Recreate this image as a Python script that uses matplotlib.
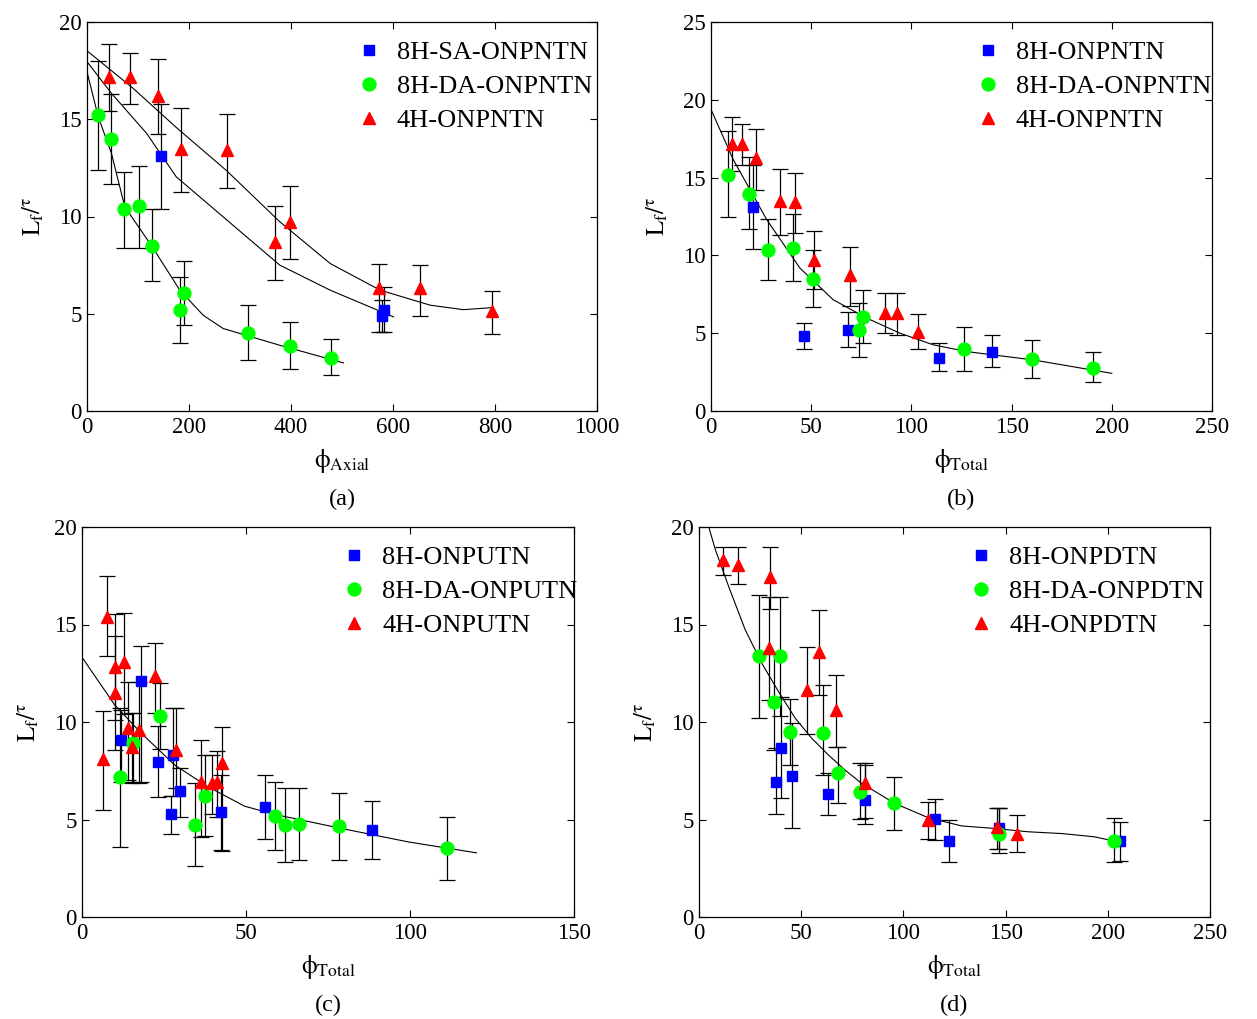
import numpy as np
import matplotlib
matplotlib.use("Agg")
import matplotlib.pyplot as plt

plt.rcParams['font.family'] = ['Liberation Serif', 'DejaVu Serif']
plt.rcParams['mathtext.fontset'] = 'stix'

# ---- panel (a) ----
a_sq_x = [146, 578, 583]
a_sq_y = [13.1, 4.87, 5.2]
a_sq_lo = [10.4, 4.07, 4.07]
a_sq_hi = [15.8, 5.7, 6.4]

a_ci_x = [22, 47, 73, 102, 128, 190, 182, 316, 399, 478]
a_ci_y = [15.2, 14.0, 10.36, 10.53, 8.5, 6.07, 5.21, 4.03, 3.34, 2.74]
a_ci_lo = [12.4, 11.66, 8.39, 8.39, 6.67, 4.41, 3.5, 2.61, 2.18, 1.84]
a_ci_hi = [18.0, 16.3, 12.3, 12.6, 10.36, 7.72, 6.9, 5.44, 4.58, 3.72]

a_tr_x = [43, 84, 140, 185, 275, 369, 399, 573, 652, 795]
a_tr_y = [17.15, 17.15, 16.2, 13.45, 13.4, 8.7, 9.7, 6.3, 6.3, 5.13]
a_tr_lo = [15.44, 15.76, 14.22, 11.27, 11.47, 6.72, 7.79, 4.07, 4.89, 3.98]
a_tr_hi = [18.87, 18.39, 18.08, 15.56, 15.25, 10.55, 11.58, 7.58, 7.53, 6.17]

a_fit_tr_x = [0, 90, 175, 274, 378, 477, 575, 673, 738, 797]
a_fit_tr_y = [18.52, 16.6, 14.58, 12.35, 9.73, 7.58, 6.21, 5.44, 5.21, 5.32]
a_fit_sq_x = [0, 48, 117, 175, 267, 378, 477, 601]
a_fit_sq_y = [17.96, 16.33, 14.27, 12.04, 9.98, 7.5, 6.21, 4.84]
a_fit_ci_x = [0, 22, 48, 74, 128, 182, 228, 267, 378, 503]
a_fit_ci_y = [17.44, 15.13, 13.24, 10.5, 8.44, 6.21, 4.92, 4.24, 3.38, 2.47]

# ---- panel (b) ----
b_sq_x = [21.1, 46.6, 68.6, 114, 140]
b_sq_y = [13.1, 4.85, 5.21, 3.43, 3.82]
b_sq_lo = [10.4, 3.97, 4.14, 2.6, 2.81]
b_sq_hi = [15.84, 5.64, 6.35, 4.36, 4.89]

b_ci_x = [8.65, 18.8, 28.6, 41.1, 51.1, 76, 73.9, 126, 160, 190.8]
b_ci_y = [15.19, 13.97, 10.36, 10.5, 8.5, 6.07, 5.21, 3.97, 3.35, 2.75]
b_ci_lo = [12.45, 11.7, 8.43, 8.37, 6.67, 4.4, 3.45, 2.6, 2.15, 1.85]
b_ci_hi = [17.98, 16.3, 12.36, 12.66, 10.36, 7.75, 6.93, 5.43, 4.57, 3.76]

b_tr_x = [10.3, 15.5, 22.3, 34.4, 41.9, 51.4, 69.4, 86.9, 92.7, 103.5]
b_tr_y = [17.19, 17.19, 16.27, 13.48, 13.41, 9.72, 8.71, 6.33, 6.33, 5.1]
b_tr_lo = [15.45, 15.84, 14.18, 11.29, 11.44, 7.83, 6.78, 5.0, 4.89, 3.97]
b_tr_hi = [18.9, 18.45, 18.13, 15.58, 15.3, 11.59, 10.51, 7.57, 7.57, 6.22]

b_fit_x = [0, 11.1, 27.8, 44.4, 61, 77.7, 94.3, 111, 127.6, 160.9, 200]
b_fit_y = [19.38, 16.16, 12.3, 9.18, 7.15, 5.97, 5.0, 4.25, 3.82, 3.28, 2.42]

# ---- panel (c) ----
c_sq_x = [11.8, 18.1, 23.2, 27.6, 27.1, 29.8, 42.5, 55.7, 88.3]
c_sq_y = [9.1, 12.1, 7.96, 8.3, 5.26, 6.47, 5.36, 5.62, 4.45]
c_sq_lo = [6.9, 6.93, 6.13, 6.2, 4.28, 5.14, 3.42, 4.02, 3.0]
c_sq_hi = [10.6, 13.9, 9.8, 10.7, 6.2, 7.65, 7.28, 7.28, 5.96]

c_ci_x = [11.5, 15.6, 23.7, 34.4, 37.6, 58.8, 61.9, 66.2, 78.3, 111.2]
c_ci_y = [7.16, 8.94, 10.3, 4.74, 6.2, 5.19, 4.71, 4.76, 4.66, 3.54]
c_ci_lo = [3.6, 6.93, 8.6, 2.6, 4.14, 3.46, 2.8, 2.91, 2.91, 1.88]
c_ci_hi = [10.7, 10.45, 12.0, 6.85, 8.3, 6.93, 6.6, 6.64, 6.34, 5.14]

c_tr_x = [7.6, 6.4, 10.1, 12.7, 10.1, 14.0, 17.3, 15.1, 22.2, 28.8, 36.4, 39.5, 41.3, 42.7]
c_tr_y = [15.4, 8.08, 12.84, 13.07, 11.5, 9.67, 9.59, 8.73, 12.36, 8.56, 6.93, 6.85, 6.93, 7.91]
c_tr_lo = [13.36, 5.48, 10.1, 10.4, 8.56, 7.02, 6.85, 6.85, 10.45, 6.6, 4.1, 5.3, 5.14, 3.39]
c_tr_hi = [17.47, 10.58, 15.55, 15.6, 14.4, 12.07, 12.07, 10.45, 14.04, 10.7, 9.08, 8.3, 8.5, 9.73]

c_fit_x = [0, 10, 18.1, 28.3, 38.4, 49.6, 58.8, 79.1, 99.5, 120.3]
c_fit_y = [13.32, 10.87, 9.42, 7.79, 6.68, 5.68, 5.26, 4.54, 3.85, 3.29]

# ---- panel (d) ----
d_sq_x = [40.2, 37.8, 45.4, 62.9, 81.3, 115.5, 122.5, 146.7, 205.9]
d_sq_y = [8.68, 6.9, 7.23, 6.3, 5.99, 5.02, 3.9, 4.54, 3.9]
d_sq_lo = [6.08, 5.26, 4.54, 5.22, 4.79, 3.97, 2.83, 3.5, 2.86]
d_sq_hi = [11.3, 8.68, 9.97, 7.36, 7.82, 6.03, 5.0, 5.6, 4.88]

d_ci_x = [29.2, 39.7, 36.5, 44.6, 60.9, 68.2, 78.8, 95.6, 146.7, 203.1]
d_ci_y = [13.36, 13.36, 11.04, 9.5, 9.42, 7.36, 6.42, 5.86, 4.28, 3.89]
d_ci_lo = [10.2, 10.3, 8.56, 7.79, 7.28, 5.86, 5.05, 4.45, 3.29, 2.83]
d_ci_hi = [16.5, 16.4, 13.5, 11.2, 11.9, 8.73, 7.88, 7.19, 5.57, 5.09]

d_tr_x = [11.7, 19.1, 34.9, 34.4, 58.8, 52.8, 67.1, 81.3, 111.9, 146, 155.4]
d_tr_y = [18.29, 18.07, 17.43, 13.78, 13.6, 11.64, 10.6, 6.88, 4.97, 4.62, 4.28]
d_tr_lo = [17.55, 17.07, 15.79, 11.13, 11.4, 9.37, 8.73, 5.09, 4.02, 3.51, 3.34]
d_tr_hi = [19.0, 19.0, 19.0, 16.4, 15.75, 13.84, 12.4, 7.88, 5.9, 5.6, 5.22]

d_fit_x = [4.7, 8, 14.5, 22.6, 30.8, 38.9, 47.1, 55.2, 63.4, 71.5, 79.6, 95.9,
           112.2, 128.5, 144.8, 161, 177.4, 193.6, 205]
d_fit_y = [20.03, 18.84, 16.95, 14.73, 13.0, 11.56, 10.19, 9.16, 8.3, 7.53, 6.85, 5.82,
           5.09, 4.67, 4.54, 4.37, 4.28, 4.11, 3.85]

a_names = ['8H-SA-ONPNTN', '8H-DA-ONPNTN', '4H-ONPNTN']
b_names = ['8H-ONPNTN', '8H-DA-ONPNTN', '4H-ONPNTN']
c_names = ['8H-ONPUTN', '8H-DA-ONPUTN', '4H-ONPUTN']
d_names = ['8H-ONPDTN', '8H-DA-ONPDTN', '4H-ONPDTN']

W, H = 1257, 1019
fig = plt.figure(figsize=(W / 100, H / 100), dpi=100)


def add_axes(l, t, r, b):
    return fig.add_axes([l / W, 1 - b / H, (r - l) / W, (b - t) / H])


def errpts(ax, x, y, lo, hi, marker, color, ms, label):
    y = np.array(y)
    yerr = [y - np.array(lo), np.array(hi) - y]
    ax.errorbar(x, y, yerr=yerr, fmt='none', ecolor='black', elinewidth=0.9,
                capsize=5.5, capthick=0.9, zorder=2)
    ax.plot(x, y, linestyle='none', marker=marker, color=color, ms=ms,
            mec=color, label=label, zorder=3)


def style(ax, xlim, ylim, xticks, yticks, xlab, tag):
    ax.set_xlim(*xlim)
    ax.set_ylim(*ylim)
    ax.set_xticks(xticks)
    ax.set_yticks(yticks)
    ax.tick_params(direction='in', top=True, right=True, length=5, width=0.8,
                   labelsize=16.5, pad=4)
    for s in ax.spines.values():
        s.set_linewidth(0.9)
    ax.set_xlabel(xlab, fontsize=18, labelpad=7)
    ax.set_ylabel(r'$\mathrm{L}_\mathrm{f}/^{\mathrm{\tau}}$', fontsize=18, labelpad=9)
    ax.text(0.5, -0.228, tag, transform=ax.transAxes, ha='center', va='center',
            fontsize=17.5)
    ax.legend(loc='upper left', bbox_to_anchor=(0.527, 0.953), frameon=False,
              fontsize=19, borderpad=0, handlelength=1.0, handletextpad=0.55,
              labelspacing=0.4, borderaxespad=0)


ms_sq, ms_ci, ms_tr = 7.2, 9.3, 8.8

# (a)
ax = add_axes(87, 22, 597, 411)
errpts(ax, a_sq_x, a_sq_y, a_sq_lo, a_sq_hi, 's', '#0000ff', ms_sq, a_names[0])
errpts(ax, a_ci_x, a_ci_y, a_ci_lo, a_ci_hi, 'o', '#00ff00', ms_ci, a_names[1])
errpts(ax, a_tr_x, a_tr_y, a_tr_lo, a_tr_hi, '^', '#ff0000', ms_tr, a_names[2])
for fx, fy in [(a_fit_tr_x, a_fit_tr_y), (a_fit_sq_x, a_fit_sq_y), (a_fit_ci_x, a_fit_ci_y)]:
    ax.plot(fx, fy, color='black', lw=0.8, zorder=1)
style(ax, (0, 1000), (0, 20), range(0, 1001, 200), range(0, 21, 5),
      r'$\mathrm{\phi}_{\mathrm{Axial}}$', '(a)')

# (b)
ax = add_axes(711, 22, 1212, 411)
errpts(ax, b_sq_x, b_sq_y, b_sq_lo, b_sq_hi, 's', '#0000ff', ms_sq, b_names[0])
errpts(ax, b_ci_x, b_ci_y, b_ci_lo, b_ci_hi, 'o', '#00ff00', ms_ci, b_names[1])
errpts(ax, b_tr_x, b_tr_y, b_tr_lo, b_tr_hi, '^', '#ff0000', ms_tr, b_names[2])
ax.plot(b_fit_x, b_fit_y, color='black', lw=0.8, zorder=1)
style(ax, (0, 250), (0, 25), range(0, 251, 50), range(0, 26, 5),
      r'$\mathrm{\phi}_{\mathrm{Total}}$', '(b)')

# (c)
ax = add_axes(82, 527, 574, 917)
errpts(ax, c_sq_x, c_sq_y, c_sq_lo, c_sq_hi, 's', '#0000ff', ms_sq, c_names[0])
errpts(ax, c_ci_x, c_ci_y, c_ci_lo, c_ci_hi, 'o', '#00ff00', ms_ci, c_names[1])
errpts(ax, c_tr_x, c_tr_y, c_tr_lo, c_tr_hi, '^', '#ff0000', ms_tr, c_names[2])
ax.plot(c_fit_x, c_fit_y, color='black', lw=0.8, zorder=1)
style(ax, (0, 150), (0, 20), range(0, 151, 50), range(0, 21, 5),
      r'$\mathrm{\phi}_{\mathrm{Total}}$', '(c)')

# (d)
ax = add_axes(699, 527, 1210, 917)
errpts(ax, d_sq_x, d_sq_y, d_sq_lo, d_sq_hi, 's', '#0000ff', ms_sq, d_names[0])
errpts(ax, d_ci_x, d_ci_y, d_ci_lo, d_ci_hi, 'o', '#00ff00', ms_ci, d_names[1])
errpts(ax, d_tr_x, d_tr_y, d_tr_lo, d_tr_hi, '^', '#ff0000', ms_tr, d_names[2])
ax.plot(d_fit_x, d_fit_y, color='black', lw=0.8, zorder=1)
style(ax, (0, 250), (0, 20), range(0, 251, 50), range(0, 21, 5),
      r'$\mathrm{\phi}_{\mathrm{Total}}$', '(d)')

fig.savefig('out.png', dpi=100)
